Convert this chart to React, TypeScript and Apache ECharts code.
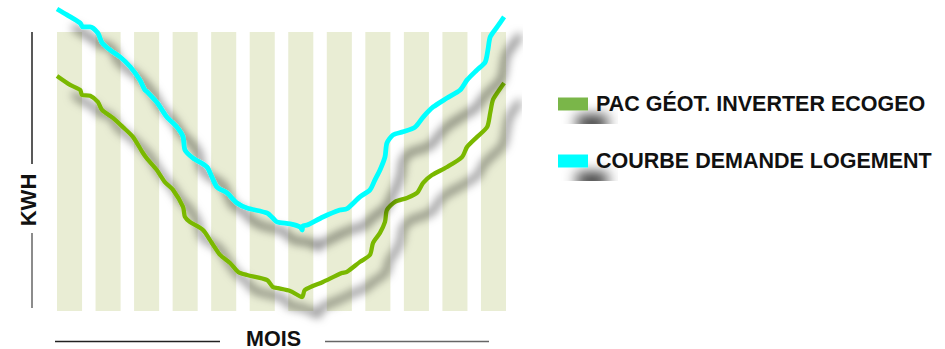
import React, { useEffect, useRef } from "react";
import * as echarts from "echarts";

// Months shown as vertical bands
const MONTHS = ["Jan", "Fév", "Mar", "Avr", "Mai", "Juin", "Juil", "Août", "Sep", "Oct", "Nov", "Déc"];
const BAND_TOP = 100;
const BAND_WIDTH = 0.65;

// Housing demand curve [month position, kWh index]
const DEMANDE: [number, number][] = [
  [0, 108.2], [0.26, 106.1], [0.6, 103.2], [0.67, 101.8], [0.86, 101.8], [1.06, 99.6],
  [1.17, 96.1], [1.38, 93.5], [1.64, 91.0], [1.9, 87.5], [2.15, 82.8], [2.28, 79.2],
  [2.34, 78.5], [2.6, 74.6], [2.85, 69.5], [3.11, 65.9], [3.27, 62.4], [3.32, 57.7],
  [3.53, 54.8], [3.89, 51.6], [4.02, 48.0], [4.15, 44.4], [4.41, 42.3], [4.67, 38.7],
  [4.93, 36.9], [5.45, 35.1], [5.6, 33.3], [5.71, 31.9], [6.05, 31.2], [6.31, 30.1],
  [6.36, 29.0], [6.38, 30.5], [6.49, 30.8], [6.9, 33.7], [7.34, 36.2], [7.52, 36.6],
  [7.86, 40.9], [8.12, 43.4], [8.25, 47.0], [8.38, 50.5], [8.51, 55.2], [8.56, 60.2],
  [8.72, 63.1], [8.98, 64.2], [9.29, 65.9], [9.5, 69.5], [9.76, 73.1], [10.12, 76.3],
  [10.46, 79.2], [10.64, 82.8], [10.9, 86.4], [11.11, 89.2], [11.18, 93.5], [11.24, 98.2],
  [11.42, 101.8], [11.6, 105.4],
];

// Geothermal heat pump output [month position, kWh index]
const PAC: [number, number][] = [
  [0, 84.2], [0.34, 81.0], [0.6, 79.2], [0.65, 77.4], [0.86, 77.1], [1.06, 74.9],
  [1.17, 72.0], [1.45, 69.2], [1.71, 65.9], [1.97, 62.4], [2.23, 56.6], [2.34, 54.5],
  [2.59, 50.5], [2.8, 46.2], [3.01, 43.4], [3.27, 37.3], [3.32, 33.7], [3.45, 31.9],
  [3.79, 29.0], [3.97, 25.4], [4.05, 23.7], [4.23, 20.1], [4.49, 17.2], [4.7, 14.0],
  [4.93, 12.9], [5.45, 11.1], [5.6, 8.6], [5.73, 8.2], [6.05, 7.2], [6.36, 5.0],
  [6.43, 7.5], [6.9, 10.4], [7.39, 13.6], [7.52, 14.0], [7.86, 17.6], [8.12, 20.1],
  [8.2, 24.4], [8.38, 28.0], [8.51, 31.9], [8.56, 36.2], [8.77, 39.1], [9.08, 40.5],
  [9.34, 42.3], [9.5, 45.9], [9.73, 48.7], [10.12, 51.6], [10.51, 55.2], [10.64, 58.8],
  [10.9, 62.4], [11.16, 65.9], [11.24, 71.0], [11.31, 75.6], [11.44, 78.5], [11.6, 81.7],
];

const PAC_NAME = "PAC GÉOT. INVERTER ECOGEO";
const DEMANDE_NAME = "COURBE DEMANDE LOGEMENT";

const FONT = '"Liberation Sans", Arial, sans-serif';
const SHADOW = {
  shadowBlur: 10,
  shadowColor: "rgba(0,0,0,0.68)",
  shadowOffsetX: 16,
  shadowOffsetY: 18,
};

export default function App() {
  const ref = useRef<HTMLDivElement>(null);

  useEffect(() => {
    if (!ref.current) return;
    const chart = echarts.init(ref.current, undefined, { renderer: "svg" });
    chart.setOption({
      animation: false,
      backgroundColor: "#ffffff",
      grid: { left: 57, right: 425.5, top: 4, bottom: 38 },
      xAxis: { type: "value", min: 0, max: 12, show: false },
      yAxis: { type: "value", min: 0, max: 110, show: false },
      legend: {
        orient: "vertical",
        left: 553,
        top: 88,
        itemGap: 35,
        itemWidth: 30,
        itemHeight: 13,
        icon: "rect",
        selectedMode: false,
        textStyle: {
          fontFamily: FONT,
          fontWeight: "bold",
          fontSize: 21.5,
          lineHeight: 22,
          color: "#111111",
          padding: [0, 0, 0, 3],
        },
        itemStyle: {
          shadowBlur: 14,
          shadowColor: "rgba(0,0,0,0.95)",
          shadowOffsetX: 19,
          shadowOffsetY: 19,
        },
        data: [
          { name: PAC_NAME, itemStyle: { color: "#7ab648" } },
          { name: DEMANDE_NAME, itemStyle: { color: "#00ffff" } },
        ],
      },
      graphic: [
        { type: "line", shape: { x1: 32, y1: 32, x2: 32, y2: 164 }, style: { stroke: "#222", lineWidth: 1.5 } },
        { type: "line", shape: { x1: 32, y1: 233, x2: 32, y2: 308 }, style: { stroke: "#666", lineWidth: 1.5 } },
        { type: "line", shape: { x1: 55, y1: 341.5, x2: 220, y2: 341.5 }, style: { stroke: "#222", lineWidth: 1.5 } },
        { type: "line", shape: { x1: 325, y1: 341.5, x2: 489, y2: 341.5 }, style: { stroke: "#666", lineWidth: 1.5 } },
        {
          type: "text",
          x: 28,
          y: 200,
          rotation: Math.PI / 2,
          style: {
            text: "KWH",
            font: `bold 22px ${FONT}`,
            fill: "#111",
            align: "center",
            verticalAlign: "middle",
          },
        },
        {
          type: "text",
          x: 273.5,
          y: 338.5,
          style: {
            text: "MOIS",
            font: `bold 21.5px ${FONT}`,
            lineHeight: 16,
            fill: "#111",
            align: "center",
            verticalAlign: "middle",
          },
        },
      ],
      series: [
        {
          type: "custom",
          name: "mois",
          silent: true,
          z: 1,
          data: MONTHS.map((m, i) => [i, BAND_TOP, m]),
          renderItem: (_params: any, api: any) => {
            const topLeft = api.coord([api.value(0), api.value(1)]);
            const bottomRight = api.coord([api.value(0) + BAND_WIDTH, 0]);
            return {
              type: "rect",
              shape: {
                x: topLeft[0],
                y: topLeft[1],
                width: bottomRight[0] - topLeft[0],
                height: bottomRight[1] - topLeft[1],
              },
              style: { fill: "#e9edd4" },
            };
          },
        },
        {
          type: "line",
          name: PAC_NAME,
          data: PAC,
          z: 3,
          smooth: 0.25,
          showSymbol: false,
          clip: false,
          color: "#7ab800",
          lineStyle: { width: 4.3, color: "#7ab800", ...SHADOW },
        },
        {
          type: "line",
          name: DEMANDE_NAME,
          data: DEMANDE,
          z: 3,
          smooth: 0.25,
          showSymbol: false,
          clip: false,
          color: "#00ffff",
          lineStyle: { width: 4.8, color: "#00ffff", ...SHADOW },
        },
      ],
    });
    return () => chart.dispose();
  }, []);

  return (
    <div
      ref={ref}
      style={{ position: "fixed", left: 0, top: 0, width: 945, height: 349 }}
    />
  );
}
